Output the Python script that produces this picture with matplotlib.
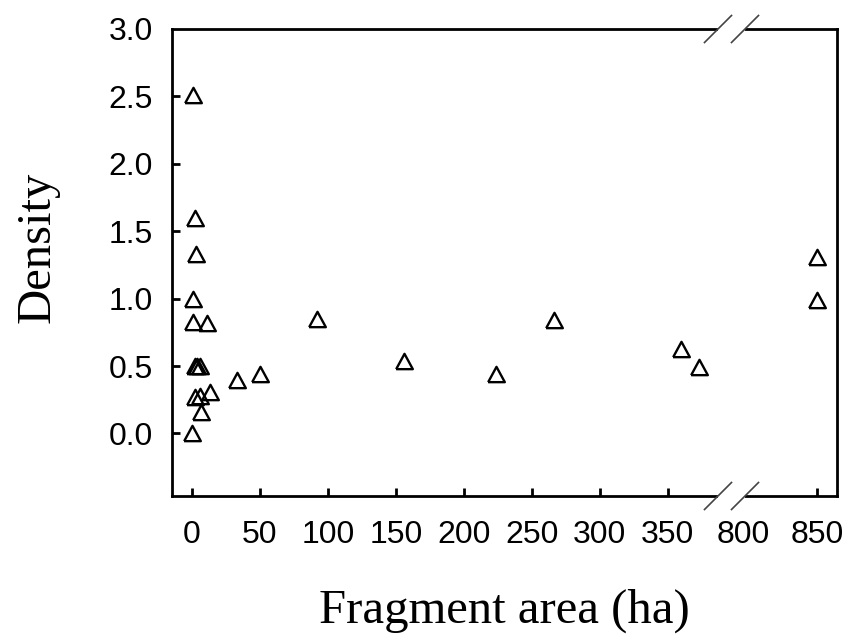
import numpy as np
import matplotlib
matplotlib.use("Agg")
import matplotlib.pyplot as plt
from matplotlib.lines import Line2D

# fragment area (ha) and density
area = [1, 2.2, 3, 0.5, 0.5, 11, 2.5, 4, 6, 2.2, 5.9, 13, 7, 0,
        33, 50, 92, 156, 224, 266, 360, 373, 850, 850]
density = [2.51, 1.6, 1.33, 1.0, 0.83, 0.82, 0.5, 0.5, 0.5, 0.27, 0.28, 0.31, 0.16, 0.0,
           0.40, 0.44, 0.85, 0.535, 0.444, 0.844, 0.63, 0.49, 1.31, 0.99]

xticks = [0, 50, 100, 150, 200, 250, 300, 350, 800, 850]
yticks = [0.0, 0.5, 1.0, 1.5, 2.0, 2.5, 3.0]

# broken x axis: 0-387 linear, gap squeezed, 800+ slightly wider
BRK_LO, BRK_HI = 387.0, 800.0
GAP = 18.4
RIGHT_K = 1.088


def fwd(x):
    x = np.asarray(x, dtype=float)
    mid = BRK_LO + (x - BRK_LO) * GAP / (BRK_HI - BRK_LO)
    hi = BRK_LO + GAP + (x - BRK_HI) * RIGHT_K
    return np.where(x <= BRK_LO, x, np.where(x < BRK_HI, mid, hi))


def inv(u):
    u = np.asarray(u, dtype=float)
    mid = BRK_LO + (u - BRK_LO) * (BRK_HI - BRK_LO) / GAP
    hi = BRK_HI + (u - BRK_LO - GAP) / RIGHT_K
    return np.where(u <= BRK_LO, u, np.where(u < BRK_LO + GAP, mid, hi))


fig = plt.figure(figsize=(8.49, 6.44), dpi=100)
ax = fig.add_axes([172 / 849, 1 - 496 / 644, 665 / 849, 467 / 644])
ax.set_xscale('function', functions=(fwd, inv))

tri = [(-1, -0.92), (1, -0.92), (0, 0.92), (-1, -0.92)]
ax.plot(area, density, linestyle='none', marker=tri, markersize=12,
        markerfacecolor='none', markeredgecolor='black', markeredgewidth=1.7,
        clip_on=False, zorder=4)

ax.set_xlim(-14.7, 863.5)
ax.set_ylim(-0.464, 3.0)

ax.set_xticks(xticks)
ax.set_xticklabels([str(t) for t in xticks])
ax.set_yticks(yticks)
ax.set_yticklabels(['%.1f' % t for t in yticks])
ax.xaxis.set_minor_locator(matplotlib.ticker.NullLocator())

for lab in ax.get_xticklabels() + ax.get_yticklabels():
    lab.set_fontfamily('Liberation Sans')
    lab.set_fontsize(23)

ax.tick_params(axis='both', direction='in', length=6, width=2, color='black')
ax.tick_params(axis='x', pad=17, top=False)
ax.tick_params(axis='y', pad=14, right=False)
# no tick mark at 800 (sits on the break) and none at 3.0 (top corner)
ax.xaxis.get_major_ticks()[8].tick1line.set_visible(False)
ax.yaxis.get_major_ticks()[-1].tick1line.set_visible(False)

for s in ax.spines.values():
    s.set_linewidth(2)

# axis break: white gap and two slashes on top and bottom spines
x1, x2 = (718 - 172) / 665, (745 - 172) / 665
dx, dy = 13.5 / 665, 13.5 / 467
for yy in (0, 1):
    ax.add_line(Line2D([x1, x2], [yy, yy], transform=ax.transAxes, color='white',
                       linewidth=4, clip_on=False, zorder=5, solid_capstyle='butt'))
    for xc in (x1, x2):
        ax.add_line(Line2D([xc - dx, xc + dx], [yy - dy, yy + dy], transform=ax.transAxes,
                           color='#444444', linewidth=1.2, clip_on=False, zorder=6))

fig.text(50 / 849, 1 - 247 / 644, 'Density', family='Liberation Serif', fontsize=35,
         rotation=90, rotation_mode='anchor', ha='center', va='baseline')
fig.text(504 / 849, 1 - 623 / 644, 'Fragment area (ha)', family='Liberation Serif',
         fontsize=35, ha='center', va='baseline')

fig.savefig('out.png', dpi=100)
